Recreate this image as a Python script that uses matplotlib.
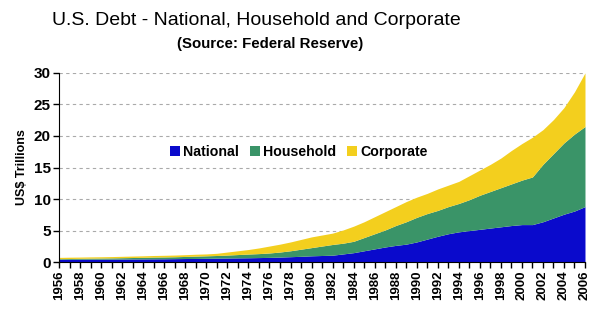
import matplotlib.pyplot as plt

plt.rcParams['font.family'] = ['Liberation Sans', 'DejaVu Sans']

years = list(range(1956, 2007))

# stack levels (US$ trillions)
national_top = [0.45, 0.45, 0.46, 0.47, 0.47, 0.48, 0.49, 0.50, 0.51, 0.52,
                0.53, 0.55, 0.57, 0.58, 0.60, 0.63, 0.65, 0.67, 0.69, 0.72,
                0.75, 0.80, 0.86, 0.92, 1.00, 1.05, 1.10, 1.30, 1.50, 1.80,
                2.10, 2.40, 2.65, 2.85, 3.20, 3.65, 4.10, 4.50, 4.80, 5.00,
                5.20, 5.40, 5.60, 5.80, 5.95, 5.95, 6.40, 7.00, 7.60, 8.10,
                8.80]
household_top = [0.55, 0.57, 0.60, 0.63, 0.65, 0.67, 0.70, 0.73, 0.76, 0.80,
                 0.82, 0.85, 0.90, 0.95, 1.00, 1.05, 1.12, 1.20, 1.28, 1.35,
                 1.45, 1.60, 1.80, 2.05, 2.30, 2.55, 2.80, 3.00, 3.30, 3.90,
                 4.50, 5.10, 5.80, 6.40, 7.10, 7.70, 8.20, 8.80, 9.30, 9.90,
                 10.60, 11.20, 11.80, 12.40, 13.00, 13.50, 15.50, 17.20, 18.90, 20.30,
                 21.50]
corporate_top = [0.75, 0.78, 0.80, 0.83, 0.85, 0.88, 0.92, 0.96, 1.00, 1.05,
                 1.08, 1.12, 1.18, 1.25, 1.30, 1.40, 1.60, 1.80, 2.00, 2.25,
                 2.55, 2.85, 3.20, 3.60, 4.00, 4.30, 4.60, 5.10, 5.70, 6.40,
                 7.20, 8.00, 8.80, 9.60, 10.30, 10.90, 11.60, 12.20, 12.80, 13.70,
                 14.60, 15.50, 16.50, 17.70, 18.80, 19.80, 21.00, 22.60, 24.50, 27.00,
                 30.00]

fig = plt.figure(figsize=(6.1, 3.24), dpi=100)
ax = fig.add_axes([0.097, 0.191, 0.862, 0.584])

ax.fill_between(years, 0, national_top, color='#0A0ACC', lw=0, label='National')
ax.fill_between(years, national_top, household_top, color='#3A9468', lw=0, label='Household')
ax.fill_between(years, household_top, corporate_top, color='#F3CF1E', lw=0, label='Corporate')

ax.set_xlim(1956, 2006)
ax.set_ylim(0, 30)
ax.set_yticks(range(0, 31, 5))
ax.set_xticks(range(1956, 2007, 2))
ax.set_xticks(years, minor=True)
ax.set_xticklabels([str(y) for y in range(1956, 2007, 2)], rotation=90,
                   fontsize=9.5, fontweight='bold')
for lab in ax.get_yticklabels():
    lab.set_fontsize(11)
    lab.set_fontweight('bold')
ax.tick_params(axis='both', which='both', length=4, width=1, direction='out', pad=2)

ax.grid(axis='y', linestyle=(0, (3, 3)), color='#aaaaaa', lw=0.8)
ax.set_axisbelow(True)
for s in ['top', 'right']:
    ax.spines[s].set_visible(False)

ax.set_ylabel('US$ Trillions', fontsize=9, fontweight='bold', labelpad=4)

fig.text(0.42, 0.938, 'U.S. Debt - National, Household and Corporate',
         ha='center', va='center', fontsize=14)
fig.text(0.443, 0.864, '(Source: Federal Reserve)', ha='center', va='center',
         fontsize=10.8, fontweight='bold')

fig.legend(loc='center', bbox_to_anchor=(0.49, 0.53), ncol=3, frameon=False,
           handlelength=0.7, handleheight=0.7, handletextpad=0.2,
           columnspacing=0.8, prop={'weight': 'bold', 'size': 10.2})

fig.savefig('out.png', dpi=100)
